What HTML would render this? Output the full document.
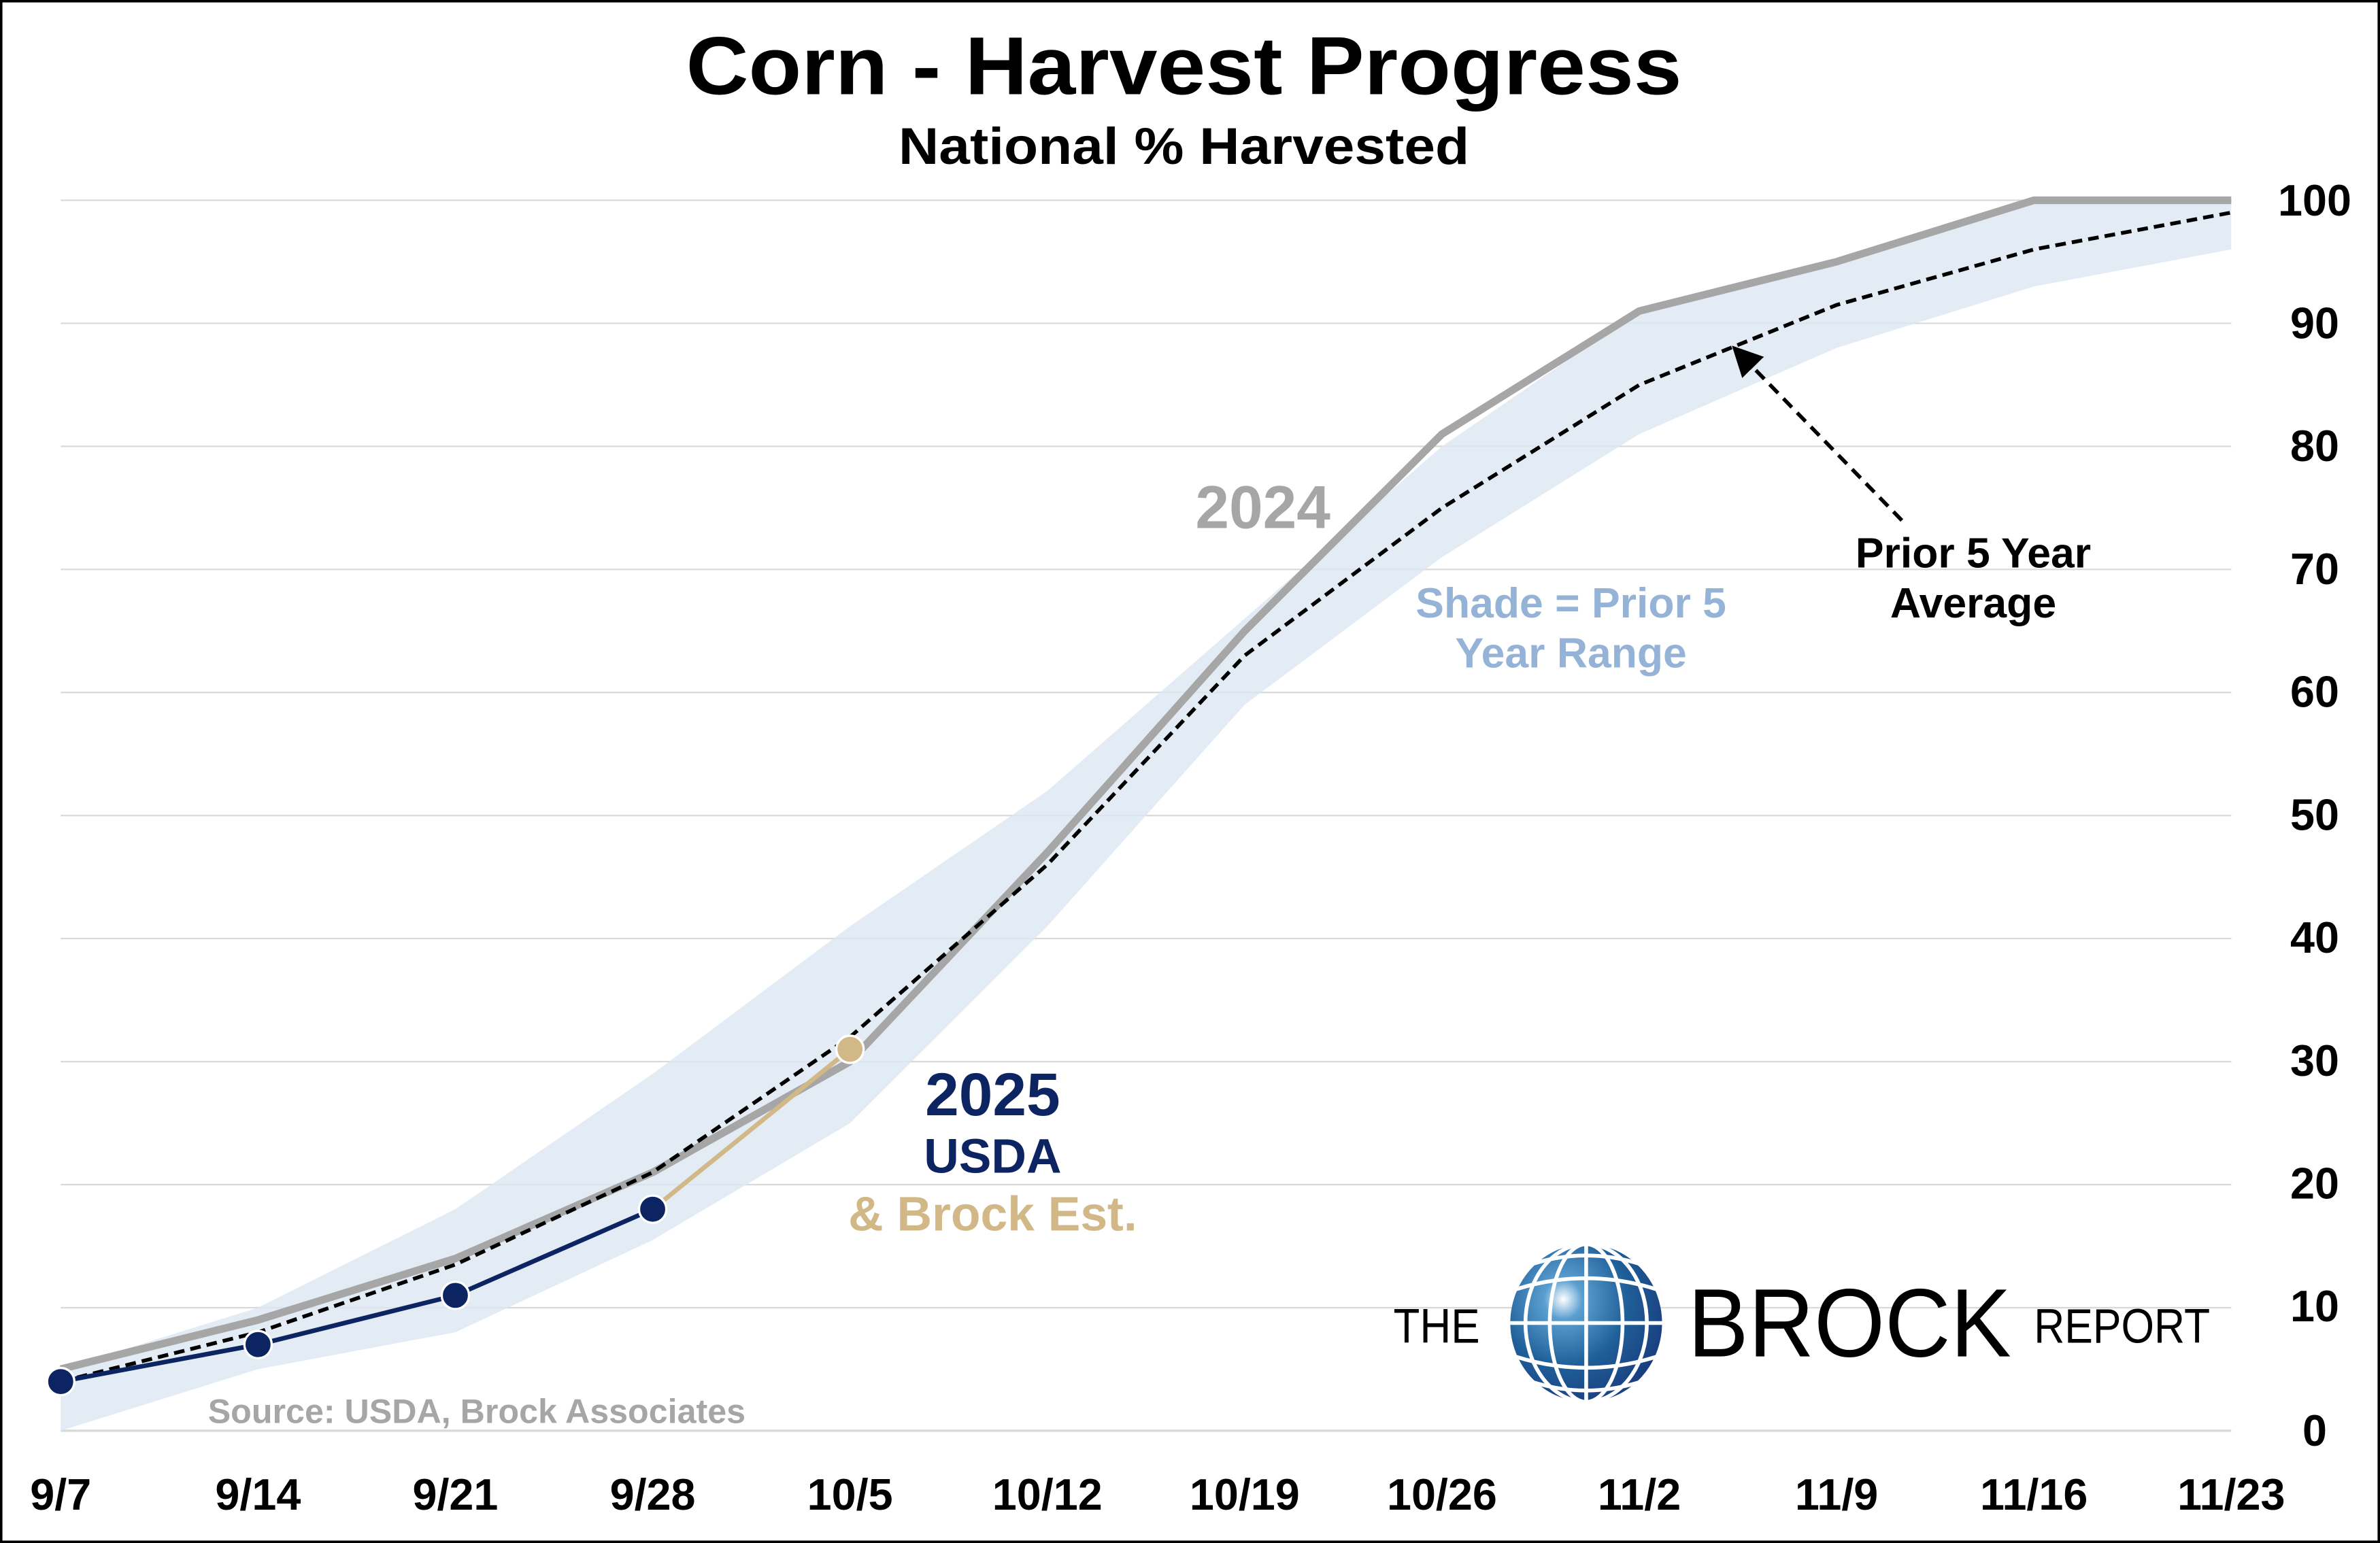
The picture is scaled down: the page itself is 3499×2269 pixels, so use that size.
<!DOCTYPE html>
<html><head><meta charset="utf-8"><style>
html,body{margin:0;padding:0;background:#fff}
svg{display:block}
text{font-family:"Liberation Sans",Arial,sans-serif;font-weight:bold}
</style></head><body>
<svg width="3499" height="2269" viewBox="0 0 1568 1017" preserveAspectRatio="none" xmlns="http://www.w3.org/2000/svg">
<defs>
<radialGradient id="g" cx="0.35" cy="0.35" r="0.7">
<stop offset="0" stop-color="#ffffff"/><stop offset="0.18" stop-color="#5a9fd0"/><stop offset="0.6" stop-color="#1f5f99"/><stop offset="1" stop-color="#1a3f80"/>
</radialGradient>
<marker id="ah" markerWidth="8" markerHeight="8" refX="4" refY="4" orient="auto"><path d="M0,0 L8,4 L0,8 z" fill="#000"/></marker>
</defs>
<rect x="0.8" y="0.8" width="1566.4" height="1015.4" fill="#fff" stroke="#000" stroke-width="1.6"/>
<g stroke="#d9d9d9" stroke-width="1">
<line x1="40" x2="1470" y1="132" y2="132"/><line x1="40" x2="1470" y1="213.1" y2="213.1"/><line x1="40" x2="1470" y1="294.2" y2="294.2"/><line x1="40" x2="1470" y1="375.3" y2="375.3"/><line x1="40" x2="1470" y1="456.4" y2="456.4"/><line x1="40" x2="1470" y1="537.5" y2="537.5"/><line x1="40" x2="1470" y1="618.6" y2="618.6"/><line x1="40" x2="1470" y1="699.7" y2="699.7"/><line x1="40" x2="1470" y1="780.8" y2="780.8"/><line x1="40" x2="1470" y1="861.9" y2="861.9"/><line x1="40" x2="1470" y1="943" y2="943" stroke-width="1.5"/>
</g>
<polygon fill="#dce6f2" fill-opacity="0.8" points="40,902.4 170,861.9 300,797 430,707.8 560,610.5 690,521.3 820,407.7 950,294.2 1080,205 1210,172.5 1340,132 1470,132 1470,164.4 1340,188.8 1210,229.3 1080,286.1 950,367.2 820,464.5 690,610.5 560,740.3 430,817.3 300,878.1 170,902.4 40,943"/>
<polyline fill="none" stroke="#a6a6a6" stroke-width="5" stroke-linejoin="round" points="40,902.4 170,870 300,829.5 430,772.7 560,699.7 690,561.8 820,415.9 950,286.1 1080,205 1210,172.5 1340,132 1470,132"/>
<polyline fill="none" stroke="#000" stroke-width="2.5" stroke-dasharray="7,4" points="40,910.6 170,878.1 300,833.5 430,772.7 560,683.5 690,569.9 820,432.1 950,334.8 1080,253.7 1210,201 1340,164.4 1470,140.1"/>
<line x1="430" y1="797" x2="560" y2="691.6" stroke="#d2b887" stroke-width="3"/>
<polyline fill="none" stroke="#0c2461" stroke-width="3" points="40,910.6 170,886.2 300,853.8 430,797"/>
<g stroke="#fff" stroke-width="1.5">
<circle cx="40" cy="910.6" r="9" fill="#0c2461"/><circle cx="170" cy="886.2" r="9" fill="#0c2461"/><circle cx="300" cy="853.8" r="9" fill="#0c2461"/><circle cx="430" cy="797" r="9" fill="#0c2461"/><circle cx="560" cy="691.6" r="9" fill="#d2b887"/>
</g>
<line x1="1253" y1="343" x2="1148" y2="235" stroke="#000" stroke-width="2.5" stroke-dasharray="8,5" marker-end="url(#ah)"/>
<text x="780" y="62" font-size="54" text-anchor="middle" textLength="656" lengthAdjust="spacingAndGlyphs">Corn - Harvest Progress</text>
<text x="780" y="108" font-size="34" text-anchor="middle" textLength="376" lengthAdjust="spacingAndGlyphs">National % Harvested</text>
<g font-size="29" text-anchor="middle">
<text x="1525" y="142">100</text><text x="1525" y="223">90</text><text x="1525" y="304">80</text><text x="1525" y="385">70</text><text x="1525" y="466">60</text><text x="1525" y="547">50</text><text x="1525" y="628">40</text><text x="1525" y="709">30</text><text x="1525" y="790">20</text><text x="1525" y="871">10</text><text x="1525" y="953">0</text>
<text x="40" y="995">9/7</text><text x="170" y="995">9/14</text><text x="300" y="995">9/21</text><text x="430" y="995">9/28</text><text x="560" y="995">10/5</text><text x="690" y="995">10/12</text><text x="820" y="995">10/19</text><text x="950" y="995">10/26</text><text x="1080" y="995">11/2</text><text x="1210" y="995">11/9</text><text x="1340" y="995">11/16</text><text x="1470" y="995">11/23</text>
</g>
<text x="832" y="348" font-size="40" fill="#a6a6a6" text-anchor="middle">2024</text>
<text x="1035" y="407" font-size="28" fill="#95b3d7" text-anchor="middle">Shade = Prior 5</text>
<text x="1035" y="440" font-size="28" fill="#95b3d7" text-anchor="middle">Year Range</text>
<text x="1300" y="374" font-size="28" text-anchor="middle">Prior 5 Year</text>
<text x="1300" y="407" font-size="28" text-anchor="middle">Average</text>
<text x="654" y="735" font-size="40" fill="#0c2461" text-anchor="middle">2025</text>
<text x="654" y="773" font-size="32" fill="#0c2461" text-anchor="middle">USDA</text>
<text x="654" y="811" font-size="32" fill="#d2b887" text-anchor="middle">&amp; Brock Est.</text>
<text x="137" y="938" font-size="22.5" fill="#a6a6a6">Source: USDA, Brock Associates</text>
<text x="918" y="885" font-size="32" style="font-weight:normal" textLength="57" lengthAdjust="spacingAndGlyphs">THE</text>
<ellipse cx="1045" cy="872" rx="50" ry="52" fill="url(#g)"/>
<g stroke="#fff" stroke-width="2.5" fill="none">
<line x1="1045" y1="820" x2="1045" y2="924"/>
<ellipse cx="1045" cy="872" rx="24" ry="52"/><ellipse cx="1045" cy="872" rx="40" ry="52"/>
<line x1="995" y1="872" x2="1095" y2="872"/>
<path d="M998,850 Q1045,835 1092,850"/><path d="M998,894 Q1045,909 1092,894"/>
<path d="M1010,833 Q1045,822 1080,833"/><path d="M1010,911 Q1045,922 1080,911"/>
</g>
<text x="1112" y="894" font-size="64" style="font-weight:normal" textLength="213" lengthAdjust="spacingAndGlyphs">BROCK</text>
<text x="1340" y="885" font-size="32" style="font-weight:normal" textLength="116" lengthAdjust="spacingAndGlyphs">REPORT</text>
</svg>
</body></html>
